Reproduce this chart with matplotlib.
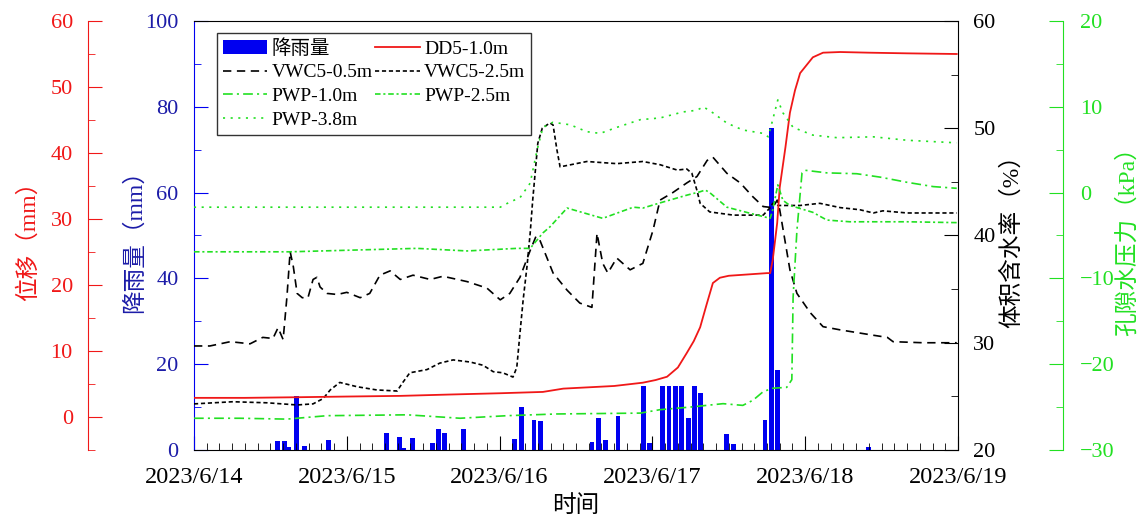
import matplotlib
matplotlib.use('Agg')
import matplotlib.pyplot as plt
from matplotlib.ticker import MultipleLocator

plt.rcParams['font.family'] = ['Liberation Serif', 'Noto Sans CJK SC']
plt.rcParams['lines.scale_dashes'] = False

# time axis: hours since 2023/6/14 00:00
day_labels = ['2023/6/14', '2023/6/15', '2023/6/16', '2023/6/17', '2023/6/18', '2023/6/19']

# hourly rainfall (mm)
rain_h = [13.1, 14.2, 14.9, 16.1, 17.3, 21.1, 30.2, 32.3, 33.0, 34.3, 37.4, 38.4, 39.3,
          42.3, 50.4, 51.4, 53.4, 54.4, 62.5, 63.5, 64.6, 66.6, 70.6, 71.5, 73.6, 74.6,
          75.6, 76.6, 77.7, 78.6, 79.6, 83.6, 84.7, 89.7, 90.7, 91.6, 105.9]
rain_mm = [2.1, 2.1, 0.8, 12.6, 1.0, 2.3, 3.9, 3.1, 0.4, 2.9, 1.6, 4.9, 3.9,
           4.8, 2.6, 10.0, 7.1, 6.8, 1.9, 7.5, 2.3, 7.9, 14.9, 1.7, 15, 15,
           15, 15, 7.5, 15, 13.4, 3.7, 1.4, 7.1, 75, 18.6, 0.7]

# displacement DD5-1.0m (mm)
dd_h = [0, 8, 16.6, 24, 32.4, 40, 48.1, 54.8, 58, 62, 66, 70.5, 72.5, 74.3, 76, 77.4,
        78.5, 79.5, 80.5, 81.5, 82.6, 84, 87, 90.0, 90.5, 90.9, 91.6, 92.0, 92.9, 93.6,
        94.4, 95.2, 97.2, 98.8, 101.5, 106, 112, 119.8]
dd_mm = [2.9, 2.9, 3.0, 3.1, 3.2, 3.4, 3.6, 3.8, 4.3, 4.5, 4.7, 5.2, 5.6, 6.1, 7.5, 9.7,
         11.5, 13.6, 17.0, 20.3, 21.1, 21.4, 21.6, 21.8, 21.8, 23.8, 29.4, 34.8, 40.9, 46.1,
         49.5, 52.1, 54.5, 55.2, 55.3, 55.2, 55.1, 55.0]

# volumetric water content (%)
vwc05_h = [0, 2.5, 5.7, 8.8, 10.8, 12.4, 13.2, 14.0, 14.6, 15.1, 15.6, 16.2, 17.0, 17.9,
           18.7, 19.3, 19.8, 20.9, 22.5, 24.0, 26.1, 27.6, 29.2, 30.8, 32.4, 34.4, 37.1,
           39.1, 42.9, 46.0, 48.1, 49.6, 51.2, 52.8, 53.7, 54.3, 56.4, 58.6, 60.6, 62.5,
           63.3, 64.2, 65.0, 66.4, 68.5, 70.5, 72.1, 73.2, 75.2, 77.4, 79.0, 80.6, 81.5,
           83.7, 85.8, 87.8, 89.4, 90.9, 91.6, 92.0, 93.6, 94.7, 96.8, 98.8, 101.5, 106.7,
           108.9, 109.8, 114.5, 119.8]
vwc05 = [29.7, 29.7, 30.1, 29.9, 30.5, 30.4, 31.4, 30.3, 34.3, 38.5, 37.1, 34.6, 34.2, 34.2,
         35.9, 36.1, 35.2, 34.6, 34.5, 34.7, 34.2, 34.6, 36.3, 36.7, 35.9, 36.3, 35.9,
         36.2, 35.7, 35.1, 34.0, 34.6, 36.1, 38.6, 39.9, 39.6, 36.5, 34.9, 33.7, 33.3,
         40.2, 37.4, 36.5, 37.9, 36.8, 37.4, 40.5, 43.3, 44.0, 44.9, 45.5, 47.0, 47.3,
         45.8, 44.9, 43.6, 42.7, 42.6, 43.3, 42.4, 36.8, 34.6, 32.8, 31.5, 31.2, 30.7,
         30.5, 30.1, 30.0, 30.0]

vwc25_h = [0, 6.1, 11.5, 16.2, 18.7, 20.3, 21.4, 22.9, 25.6, 28.7, 31.9, 32.8, 33.9, 36.6,
           38.6, 40.7, 43.4, 45.4, 47.0, 48.5, 50.1, 50.7, 51.2, 51.7, 52.3, 52.8, 53.2,
           54.0, 54.7, 55.9, 56.4, 57.0, 57.5, 61.7, 66.4, 70.5, 73.2, 75.9, 77.4, 78.2,
           79.0, 79.5, 81.0, 84.7, 89.4, 90.5, 90.9, 91.7, 95.2, 98.3, 101.5, 104.6, 106.7,
           108.2, 112.0, 119.8]
vwc25 = [24.3, 24.5, 24.4, 24.2, 24.3, 24.8, 25.6, 26.3, 25.9, 25.6, 25.5, 26.3, 27.2, 27.5,
         28.1, 28.4, 28.2, 27.9, 27.3, 27.2, 26.8, 27.7, 30.9, 34.0, 37.1, 40.2, 43.3,
         48.6, 50.0, 50.5, 50.3, 48.0, 46.4, 46.9, 46.7, 46.9, 46.6, 46.1, 46.2, 45.8,
         44.2, 43.0, 42.2, 41.9, 41.9, 42.6, 43.0, 42.8, 42.8, 43.0, 42.6, 42.4, 42.1,
         42.3, 42.1, 42.1]

# pore water pressure (kPa)
pwp10_h = [0, 7.2, 14.6, 20.9, 33.5, 41.8, 49.2, 57.0, 70.1, 73.2, 77.9, 83.1, 86.2, 87.8,
           89.4, 90.9, 93.1, 93.9, 94.1, 94.7, 95.5, 96.0, 99.4, 104.1, 107.8, 112.0, 116.1,
           119.8]
pwp10 = [-26.3, -26.3, -26.4, -26.0, -25.9, -26.3, -26.0, -25.8, -25.7, -25.3, -25.0, -24.6,
         -24.8, -24.2, -23.2, -22.8, -22.7, -21.8, -12.2, -4.4, 2.3, 2.6, 2.3, 2.2, 1.8, 1.2,
         0.7, 0.5]

pwp25_h = [0, 15.1, 35.0, 42.9, 50.7, 52.8, 54.8, 55.9, 58.6, 64.2, 69.0, 70.5, 73.2, 77.4,
           79.5, 80.3, 81.0, 83.7, 87.3, 90.5, 90.9, 91.7, 92.5, 93.6, 97.2, 99.4, 103.0,
           112.0, 119.8]
pwp25 = [-6.9, -6.9, -6.5, -6.8, -6.5, -6.5, -4.7, -4.0, -1.8, -3.0, -1.7, -1.8, -1.2, -0.3,
         0.1, 0.3, 0.0, -1.7, -2.4, -3.0, -2.0, 0.9, -0.9, -1.5, -2.3, -3.2, -3.4,
         -3.4, -3.5]

pwp38_h = [0, 24.5, 48.1, 49.6, 51.2, 52.8, 53.9, 54.8, 56.4, 59.1, 61.7, 63.8, 66.4, 70.1,
           73.2, 76.8, 79.0, 80.0, 81.5, 83.7, 86.2, 89.4, 90.2, 90.9, 91.7, 92.5, 94.1,
           97.2, 101.0, 106.7, 112.0, 119.8]
pwp38 = [-1.7, -1.7, -1.7, -1.1, -0.6, 1.1, 5.0, 7.6, 8.2, 7.9, 7.1, 6.9, 7.6, 8.5,
         8.7, 9.4, 9.6, 10.0, 9.3, 8.1, 7.3, 6.9, 6.5, 8.5, 10.8, 9.3, 7.6,
         6.7, 6.4, 6.5, 6.1, 5.8]

BLUE = '#0000f0'
BLUE_TXT = '#1c1ca8'
RED = '#f01818'
GREEN = '#22e022'

fig = plt.figure(figsize=(11.44, 5.22), dpi=100)
ax = fig.add_axes([194 / 1144, 72 / 522, 764 / 1144, 429 / 522])

# rainfall bars on the main axes
bars = ax.bar(rain_h, rain_mm, width=0.75, color=BLUE, label='降雨量')
ax.set_xlim(0, 120)
ax.set_ylim(0, 100)
ax.set_xticks(range(0, 121, 24))
ax.set_xticklabels(day_labels)
ax.xaxis.set_minor_locator(MultipleLocator(2))
ax.yaxis.set_major_locator(MultipleLocator(20))
ax.yaxis.set_minor_locator(MultipleLocator(10))
ax.tick_params(axis='x', which='both', direction='in', labelsize=17.5, pad=12)
ax.tick_params(axis='x', which='major', length=10)
ax.tick_params(axis='x', which='minor', length=5)
ax.tick_params(axis='y', which='both', direction='in', color=BLUE, labelcolor=BLUE_TXT,
               labelsize=16, pad=11)
ax.tick_params(axis='y', which='major', length=10)
ax.tick_params(axis='y', which='minor', length=5)
ax.spines['left'].set_color(BLUE)
ax.spines['right'].set_visible(False)
ax.set_xlabel('时间', fontsize=17, va='center')
ax.xaxis.set_label_coords(0.5, -0.13)
ax.set_ylabel('降雨量（mm）', fontsize=17, color=BLUE_TXT, va='center')
ax.yaxis.set_label_coords(-0.0772, 0.5)


def only_spine(a, side):
    for s in ['top', 'bottom', 'left', 'right']:
        a.spines[s].set_visible(s == side)


# volumetric water content, inner right axis
ax_w = ax.twinx()
only_spine(ax_w, 'right')
ax_w.set_ylim(20, 60)
ax_w.yaxis.set_major_locator(MultipleLocator(10))
ax_w.yaxis.set_minor_locator(MultipleLocator(5))
ax_w.tick_params(axis='y', which='both', direction='in', labelsize=16, pad=11)
ax_w.tick_params(axis='y', which='major', length=10)
ax_w.tick_params(axis='y', which='minor', length=5)
ax_w.set_ylabel('体积含水率（%）', fontsize=17, va='center')
ax_w.yaxis.set_label_coords(1.0707, 0.5)
l_v05, = ax_w.plot(vwc05_h, vwc05, color='black', lw=1.2, dashes=(6, 4), label='VWC5-0.5m')
l_v25, = ax_w.plot(vwc25_h, vwc25, color='black', lw=1.2, dashes=(3, 2), label='VWC5-2.5m')

# displacement, outer left axis
ax_r = ax.twinx()
only_spine(ax_r, 'left')
ax_r.spines['left'].set_position(('axes', -0.1387))
ax_r.spines['left'].set_color(RED)
ax_r.yaxis.set_ticks_position('left')
ax_r.yaxis.set_label_position('left')
ax_r.set_ylim(-5, 60)
ax_r.yaxis.set_major_locator(MultipleLocator(10))
ax_r.yaxis.set_minor_locator(MultipleLocator(5))
ax_r.tick_params(axis='y', which='both', direction='in', color=RED, labelcolor=RED,
                 labelsize=16, pad=11)
ax_r.tick_params(axis='y', which='major', length=10)
ax_r.tick_params(axis='y', which='minor', length=5)
ax_r.set_ylabel('位移（mm）', fontsize=17, color=RED, va='center')
ax_r.yaxis.set_label_coords(-0.217, 0.5)
l_dd, = ax_r.plot(dd_h, dd_mm, color=RED, lw=1.3, label='DD5-1.0m')

# pore water pressure, outer right axis
ax_g = ax.twinx()
only_spine(ax_g, 'right')
ax_g.spines['right'].set_position(('axes', 1.1374))
ax_g.spines['right'].set_color(GREEN)
ax_g.set_ylim(-30, 20)
ax_g.yaxis.set_major_locator(MultipleLocator(10))
ax_g.yaxis.set_minor_locator(MultipleLocator(5))
ax_g.tick_params(axis='y', which='both', direction='in', color=GREEN, labelcolor=GREEN,
                 labelsize=16, pad=12)
ax_g.tick_params(axis='y', which='major', length=10)
ax_g.tick_params(axis='y', which='minor', length=5)
ax_g.set_ylabel('孔隙水压力（kPa）', fontsize=17, color=GREEN, va='center')
ax_g.yaxis.set_label_coords(1.2225, 0.5)
l_p10, = ax_g.plot(pwp10_h, pwp10, color=GREEN, lw=1.2, dashes=(7, 3, 1.5, 3), label='PWP-1.0m')
l_p25, = ax_g.plot(pwp25_h, pwp25, color=GREEN, lw=1.2, dashes=(4, 2, 1.5, 2), label='PWP-2.5m')
l_p38, = ax_g.plot(pwp38_h, pwp38, color=GREEN, lw=1.2, dashes=(1.5, 4), label='PWP-3.8m')

handles = [bars, l_v05, l_p10, l_p38, l_dd, l_v25, l_p25]
leg = ax_g.legend(handles=handles, labels=[h.get_label() for h in handles], ncol=2,
                  loc='upper left', bbox_to_anchor=(0.030, 0.972), borderaxespad=0,
                  fontsize=14, handlelength=2.3, handletextpad=0.2, columnspacing=0.15,
                  labelspacing=0.32, borderpad=0.3, fancybox=False, framealpha=1,
                  edgecolor='#333333')
leg.get_frame().set_linewidth(1.0)

fig.savefig('out.png', dpi=100)
